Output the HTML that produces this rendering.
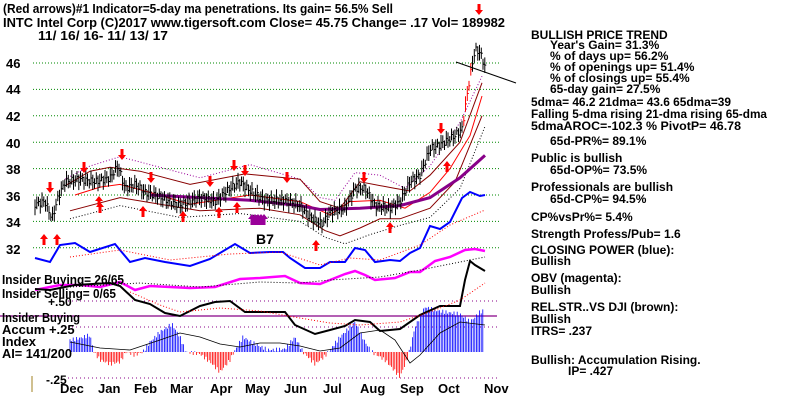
<!DOCTYPE html>
<html><head><meta charset="utf-8"><style>
html,body{margin:0;padding:0;background:#fff;width:800px;height:401px;overflow:hidden}
svg{display:block}
text{font-family:"Liberation Sans",sans-serif;font-weight:bold;fill:#000}
</style></head><body>
<svg id="s" width="800" height="401" viewBox="0 0 800 401" xmlns="http://www.w3.org/2000/svg">
<text x="3" y="13" font-size="13" textLength="390" lengthAdjust="spacingAndGlyphs">(Red arrows)#1 Indicator=5-day ma penetrations. Its gain= 56.5% Sell</text>
<text x="3" y="27" font-size="13" textLength="502" lengthAdjust="spacingAndGlyphs">INTC   Intel Corp  (C)2017 www.tigersoft.com     Close=  45.75  Change= .17 Vol= 189982</text>
<text x="38" y="40" font-size="13" textLength="130" lengthAdjust="spacingAndGlyphs">11/ 16/ 16- 11/ 13/ 17</text>
<g font-size="13">
<text x="6" y="68">46</text><text x="6" y="94">44</text><text x="6" y="121">42</text><text x="6" y="148">40</text><text x="6" y="174">38</text><text x="6" y="201">36</text><text x="6" y="227">34</text><text x="6" y="254">32</text>
</g>
<g id="g"></g>
<text x="256" y="244" font-size="14">B7</text>
<g font-size="13">
<text x="2" y="284" textLength="122" lengthAdjust="spacingAndGlyphs">Insider Buying= 26/65</text>
<text x="2" y="298" textLength="114" lengthAdjust="spacingAndGlyphs">Insider Selling= 0/65</text>
<text x="48" y="306" font-size="12">+.50</text>
<text x="2" y="322" textLength="78" lengthAdjust="spacingAndGlyphs">Insider Buying</text>
<text x="2" y="334">Accum  +.25</text>
<text x="2" y="346">Index</text>
<text x="2" y="358" textLength="70" lengthAdjust="spacingAndGlyphs">AI= 141/200</text>
<text x="46" y="384" font-size="12">-.25</text>
</g>
<line x1="32" y1="376" x2="32" y2="392" stroke="#a08020" stroke-width="1"/>
<g font-size="13">
<text x="60" y="393">Dec</text><text x="98" y="393">Jan</text><text x="134" y="393">Feb</text><text x="170" y="393">Mar</text><text x="210" y="393">Apr</text><text x="245" y="393">May</text><text x="284" y="393">Jun</text><text x="323" y="393">Jul</text><text x="360" y="393">Aug</text><text x="400" y="393">Sep</text><text x="438" y="393">Oct</text><text x="484" y="393">Nov</text>
</g>
<g font-size="12">
<text x="531" y="39">BULLISH PRICE TREND</text>
<text x="550" y="49">Year's Gain= 31.3%</text>
<text x="550" y="60">% of days up= 56.2%</text>
<text x="550" y="71">% of openings up= 51.4%</text>
<text x="550" y="82">% of closings up= 55.4%</text>
<text x="550" y="93">65-day gain= 27.5%</text>
<text x="531" y="106" textLength="200" lengthAdjust="spacingAndGlyphs">5dma= 46.2 21dma= 43.6 65dma=39</text>
<text x="531" y="118" textLength="236" lengthAdjust="spacingAndGlyphs">Falling 5-dma rising 21-dma rising 65-dma</text>
<text x="531" y="130" textLength="210" lengthAdjust="spacingAndGlyphs">5dmaAROC=-102.3 %  PivotP= 46.78</text>
<text x="550" y="145">65d-PR%= 89.1%</text>
<text x="531" y="162">Public is bullish</text>
<text x="550" y="174">65d-OP%= 73.5%</text>
<text x="531" y="191">Professionals are bullish</text>
<text x="550" y="203">65d-CP%= 94.5%</text>
<text x="531" y="221">CP%vsPr%=  5.4%</text>
<text x="531" y="238">Strength Profess/Pub= 1.6</text>
<text x="531" y="254">CLOSING POWER (blue):</text>
<text x="531" y="265">Bullish</text>
<text x="531" y="282">OBV (magenta):</text>
<text x="531" y="294">Bullish</text>
<text x="531" y="311">REL.STR..VS DJI (brown):</text>
<text x="531" y="323">Bullish</text>
<text x="531" y="335">ITRS= .237</text>
<text x="531" y="364">Bullish: Accumulation Rising.</text>
<text x="568" y="375">IP=  .427</text>
</g>
</svg>
<script>
var g=document.getElementById('g'),h='';
function Y(p){return 63+(46-p)*13.2}
function pl(pts,col,w,dash,isP){var s=pts.map(function(a){return a[0]+','+(isP?Y(a[1]):a[1]).toFixed(1)}).join(' ');
h+='<polyline points="'+s+'" fill="none" stroke="'+col+'" stroke-width="'+w+'"'+(dash?' stroke-dasharray="'+dash+'"':'')+'/>';}
[46,44,42,40,38,36,34,32].forEach(function(p){h+='<line x1="33" x2="500" y1="'+Y(p)+'" y2="'+Y(p)+'" stroke="#080" stroke-dasharray="1,2"/>';});
[301,327,378].forEach(function(y){h+='<line x1="68" x2="500" y1="'+y+'" y2="'+y+'" stroke="#808" stroke-dasharray="1,3"/>';});
h+='<line x1="0" x2="497" y1="316" y2="316" stroke="#808" stroke-width="1.3"/>';
function interp(pts,x){for(var i=1;i<pts.length;i++){if(x<=pts[i][0]){var a=pts[i-1],b=pts[i];return a[1]+(b[1]-a[1])*(x-a[0])/(b[0]-a[0]);}}return pts[pts.length-1][1];}
var acc=[[70,-12],[80,-14],[90,-17],[94,0],[100,8],[110,12],[120,10],[126,0],[135,3],[143,0],[150,-10],[160,-20],[172,-28],[180,-15],[186,0],[200,2],[210,10],[220,20],[230,8],[234,0],[243,-15],[255,-8],[268,-2],[285,-3],[295,-15],[303,0],[315,12],[324,5],[330,-2],[340,-15],[355,-30],[365,-10],[372,0],[385,8],[400,25],[408,5],[415,-25],[425,-45],[435,-42],[445,-40],[460,-38],[470,-30],[480,-40],[485,-42]];
for(var x=70;x<=484;x+=1.6){var v=interp(acc,x)+Math.sin(x*1.7)*2;h+='<line x1="'+x.toFixed(1)+'" x2="'+x.toFixed(1)+'" y1="352" y2="'+(352+v).toFixed(1)+'" stroke="'+(v<0?'#00f':'#f00')+'" stroke-width="0.8"/>';}
pl([[70,342],[100,348],[130,350],[160,340],[180,333],[200,337],[220,344],[240,347],[260,343],[280,343],[300,346],[320,351],[340,348],[360,333],[380,330],[395,340],[410,363],[420,355],[440,333],[460,322],[485,325]],'#000',0.8);
pl([[65,37.2],[90,38.2],[120,38.9],[160,38.1],[200,37.3],[250,38.3],[300,37.2],[320,35.8],[335,35.6],[355,37.7],[380,37.5],[405,36.5],[430,38.2],[460,41.5],[482,45]],'#909',1,'1,2',1);
pl([[65,36.7],[90,37.8],[110,38.1],[140,37.8],[190,36.8],[245,37.6],[300,37.2],[320,35.5],[340,35],[360,37],[395,36.5],[410,36.3],[430,37.5],[460,40],[482,44.5]],'#800',1,0,1);
pl([[75,36],[100,36.6],[120,36.8],[150,36.2],[190,35.3],[250,36],[300,35.5],[330,34.5],[350,35.5],[380,35.6],[405,35],[430,36.2],[450,38],[470,40.5],[482,43.5]],'#f00',1,0,1);
pl([[70,34.8],[120,35.8],[160,35.3],[200,34.8],[260,35],[300,34.5],[325,33.3],[340,32.9],[360,33.5],[380,34.2],[400,34.2],[430,35],[455,37],[482,42]],'#800',1,0,1);
pl([[70,34.2],[120,35.2],[180,34.3],[240,34.6],[300,34],[325,32.8],[345,32.3],[370,33],[400,33.7],[430,34.3],[460,36.5],[485,41.2]],'#000',1,'1,2',1);
pl([[150,36],[200,35.8],[250,35.6],[300,35.2],[320,34.9],[360,35],[400,35.2],[430,35.8],[460,37.3],[485,39]],'#808',3,0,1);
var pr=[[35,35.3],[45,35.5],[52,34.2],[58,35.8],[65,37],[80,37.2],[95,37],[110,37.3],[118,38.2],[125,36.5],[135,36.8],[145,36.2],[155,36],[170,35.5],[180,35.2],[190,35.5],[200,35.8],[215,35.5],[230,36.5],[240,37],[250,36.3],[265,35.6],[285,35.6],[300,35.2],[310,34.3],[322,33.8],[330,34.7],[345,35],[355,36.5],[365,36.5],[375,35.2],[390,35],[400,35.5],[410,37],[420,37.5],[430,39.5],[440,39.8],[455,40.5],[462,41],[466,43],[470,45],[475,47],[480,46.8],[485,45.7]];
for(var x=35;x<=485;x+=1.75){var p=interp(pr,x)+Math.sin(x*2.3)*0.25,r=0.3+Math.abs(Math.sin(x*1.3))*0.3;var c=(x>462&&x<472)?'#f00':'#000';
h+='<line x1="'+x.toFixed(1)+'" x2="'+x.toFixed(1)+'" y1="'+Y(p+r).toFixed(1)+'" y2="'+Y(p-r).toFixed(1)+'" stroke="'+c+'"/><line x1="'+x.toFixed(1)+'" x2="'+(x+1.5).toFixed(1)+'" y1="'+Y(p).toFixed(1)+'" y2="'+Y(p).toFixed(1)+'" stroke="'+c+'"/>';}
h+='<line x1="456" y1="62" x2="516" y2="83" stroke="#000"/>';
pl([[35,258],[50,262],[60,245],[75,243],[90,252],[115,244],[130,262],[145,258],[165,262],[190,266],[210,259],[235,244],[250,253],[270,252],[283,252],[290,258],[305,268],[320,268],[330,262],[345,262],[355,248],[365,250],[375,262],[390,260],[400,261],[410,253],[420,248],[430,226],[440,229],[450,222],[462,198],[470,192],[480,196],[485,195]],'#00f',2);
pl([[70,257],[120,250],[170,260],[230,254],[280,252],[320,265],[350,258],[380,260],[420,245],[450,225],[485,210]],'#f00',1,'1,2');
pl([[35,290],[60,285],[80,285],[100,287],[120,282],[135,290],[150,286],[170,287],[190,288],[215,287],[240,279],[260,278],[285,276],[300,283],[320,284],[345,274],[355,271],[365,275],[375,280],[395,278],[410,272],[420,272],[435,261],[450,257],[465,250],[475,249],[485,251]],'#f0f',2.5);
pl([[70,287],[140,283],[200,287],[260,282],[300,283],[330,280],[380,277],[420,270],[460,262],[485,257]],'#000',1,'1,2');
pl([[35,289],[50,290],[75,285],[110,283],[120,286],[135,300],[150,304],[165,313],[180,316],[190,311],[200,306],[215,302],[230,301],[245,312],[260,312],[285,312],[295,325],[315,334],[330,330],[345,326],[355,320],[370,322],[380,331],[400,329],[420,315],[440,306],[460,306],[465,280],[470,261],[475,265],[485,271]],'#000',2);
pl([[130,292],[160,305],[180,312],[220,308],[260,311],[300,318],[330,323],[360,325],[400,322],[430,312],[460,300],[485,283]],'#f00',1,'1,2');
function arr(x,y,up,col){col=col||'#f00';if(up)h+='<polygon points="'+x+','+y+' '+(x-4)+','+(y+5)+' '+(x-1.5)+','+(y+5)+' '+(x-1.5)+','+(y+11)+' '+(x+1.5)+','+(y+11)+' '+(x+1.5)+','+(y+5)+' '+(x+4)+','+(y+5)+'" fill="'+col+'"/>';
else h+='<polygon points="'+x+','+(y+11)+' '+(x-4)+','+(y+6)+' '+(x-1.5)+','+(y+6)+' '+(x-1.5)+','+y+' '+(x+1.5)+','+y+' '+(x+1.5)+','+(y+6)+' '+(x+4)+','+(y+6)+'" fill="'+col+'"/>';}
[[50,182],[84,162],[122,149],[151,172],[210,176],[234,160],[245,165],[287,172],[364,172],[441,123],[479,4]].forEach(function(a){arr(a[0],a[1],0)});
[[44,234],[57,234],[100,202],[143,206],[183,211],[219,207],[237,202],[316,240],[390,222],[447,161],[99,196]].forEach(function(a){arr(a[0],a[1],1)});
[252,255,258,261,264].forEach(function(x){arr(x,214,1,'#909')});
g.innerHTML=h;
</script>
</body></html>
